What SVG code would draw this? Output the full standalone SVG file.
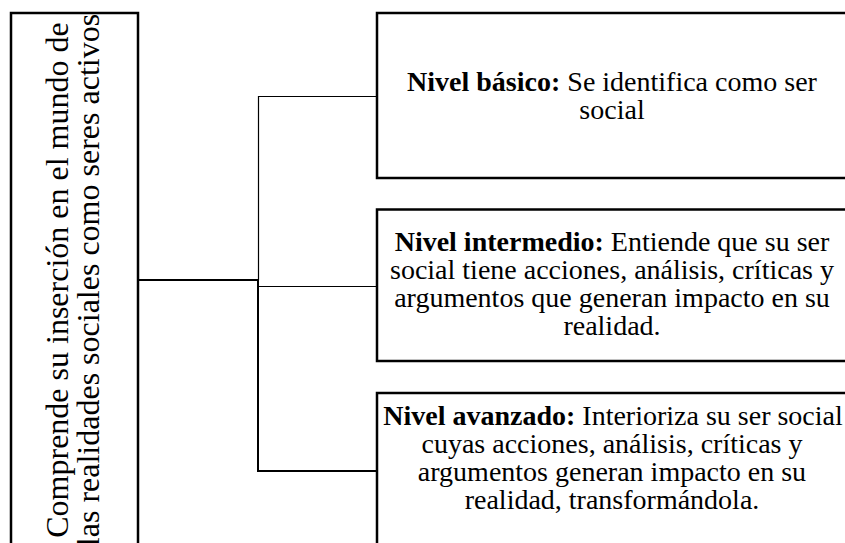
<svg xmlns="http://www.w3.org/2000/svg" width="845" height="543" viewBox="0 0 845 543">
<style>
.box{fill:#fff;stroke:#000;stroke-width:2.5}
.thin{fill:none;stroke:#000;stroke-width:1.2}
.thick{fill:none;stroke:#000;stroke-width:2}
text{font-family:'Liberation Serif','Times New Roman','DejaVu Serif',serif;fill:#000;text-anchor:middle}
.t{font-size:28px}
.lt{font-size:32px}
.b{font-weight:bold}
</style>
<rect width="845" height="543" fill="#fff"/>
<g id="connectors">
<polyline class="thin" points="377,96.5 258.5,96.5 258.5,280"/>
<line class="thin" x1="258" y1="286.5" x2="377" y2="286.5"/>
<polyline class="thick" points="138,280 258,280 258,471 377,471"/>
</g>
<g id="root">
<rect class="box" x="11" y="13" width="127" height="545"/>
<text class="lt" transform="translate(68,280) rotate(-90)"><tspan x="0" y="0">Comprende su inserción en el mundo de</tspan><tspan x="0" y="31">las realidades sociales como seres activos</tspan></text>
</g>
<g id="basico">
<rect class="box" x="377" y="13" width="472" height="165"/>
<text class="t"><tspan x="612" y="91"><tspan class="b">Nivel básico:</tspan> Se identifica como ser</tspan><tspan x="612" y="119">social</tspan></text>
</g>
<g id="intermedio">
<rect class="box" x="377" y="209.5" width="472" height="151.5"/>
<text class="t"><tspan x="612" y="251"><tspan class="b">Nivel intermedio:</tspan> Entiende que su ser</tspan><tspan x="612" y="279">social tiene acciones, análisis, críticas y</tspan><tspan x="612" y="307">argumentos que generan impacto en su</tspan><tspan x="612" y="335">realidad.</tspan></text>
</g>
<g id="avanzado">
<rect class="box" x="377" y="393" width="472" height="165"/>
<text class="t"><tspan x="613" y="425"><tspan class="b">Nivel avanzado:</tspan> Interioriza su ser social</tspan><tspan x="612" y="453">cuyas acciones, análisis, críticas y</tspan><tspan x="612" y="481">argumentos generan impacto en su</tspan><tspan x="612" y="509">realidad, transformándola.</tspan></text>
</g>
</svg>
